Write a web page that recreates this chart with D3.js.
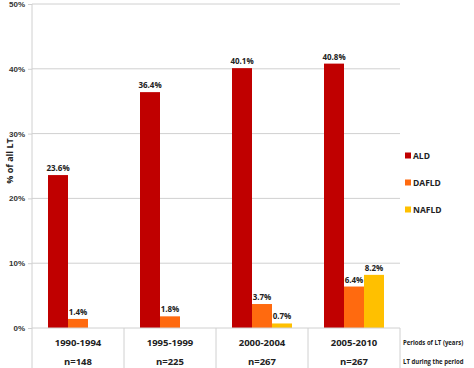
<!DOCTYPE html>
<html><head><meta charset="utf-8">
<script src="https://cdn.jsdelivr.net/npm/d3@7"></script>
<style>body{margin:0;background:#fff}svg{display:block;font-family:"Open Sans","Liberation Sans",sans-serif}</style>
</head><body><svg id="c" width="474" height="368"></svg>
<script>
const periods = ["1990-1994","1995-1999","2000-2004","2005-2010"];
const counts = ["n=148","n=225","n=267","n=267"];
const seriesNames = ["ALD","DAFLD","NAFLD"];
const ald = [23.6, 36.4, 40.1, 40.8];
const dafld = [1.4, 1.8, 3.7, 6.4];
const nafld = [null, null, 0.7, 8.2];
const yTicks = [0,10,20,30,40,50];
const rowLabels = ["Periods of LT (years)","LT during the period"];
const colors = ["#C00000","#FF6A0F","#FFC000"];

const svg = d3.select("#c");
const L=32, R=400, T=4, B=328;
const x = d3.scaleBand().domain(periods).range([L,R]);
const y = d3.scaleLinear().domain([0,50]).range([B,T]);
const xs = d3.scaleBand().domain(seriesNames).range([0,60]);
const grid="#d0d0d0";

// gridlines
svg.append("g").selectAll("line").data(yTicks.slice(1)).join("line")
  .attr("x1",L).attr("x2",R).attr("y1",d=>y(d)).attr("y2",d=>y(d))
  .attr("stroke",grid).attr("stroke-width",1);

// y axis
const yAxis = d3.axisLeft(y).tickValues(yTicks).tickFormat(d=>d+"%").tickSize(4).tickPadding(3);
const ga = svg.append("g").attr("transform",`translate(${L},0)`).call(yAxis);
ga.select(".domain").remove();
ga.selectAll("line").attr("stroke",grid);
ga.selectAll("text").attr("font-size",8).attr("font-weight","bold").attr("fill","#333");
svg.append("line").attr("x1",L).attr("x2",L).attr("y1",T).attr("y2",368).attr("stroke",grid);

// y title
svg.append("text").attr("transform",`translate(13,${161}) rotate(-90)`).attr("text-anchor","middle")
  .attr("font-size",9).attr("font-weight","bold").attr("fill","#222").text("% of all LT");

// bars
const data = [ald,dafld,nafld];
data.forEach((arr,si)=>{
  const g = svg.append("g");
  const pts = periods.map((p,i)=>({p,v:arr[i]})).filter(d=>d.v!=null);
  const off = x.bandwidth()/2 - 30;
  g.selectAll("rect").data(pts).join("rect")
    .attr("x",d=>x(d.p)+off+xs(seriesNames[si])).attr("width",xs.bandwidth())
    .attr("y",d=>y(d.v)).attr("height",d=>B-y(d.v)).attr("fill",colors[si]);
  g.selectAll("text").data(pts).join("text")
    .attr("x",d=>x(d.p)+off+xs(seriesNames[si])+xs.bandwidth()/2).attr("y",d=>y(d.v)-4)
    .attr("text-anchor","middle").attr("font-size",8).attr("font-weight","bold").attr("fill","#222")
    .text(d=>d.v.toFixed(1)+"%");
});

// table
svg.append("line").attr("x1",L).attr("x2",R).attr("y1",B).attr("y2",B).attr("stroke",grid);
svg.append("g").selectAll("line").data(periods.slice(1).concat(["end"])).join("line")
  .attr("x1",d=>d==="end"?R:x(d)).attr("x2",d=>d==="end"?R:x(d)).attr("y1",B).attr("y2",368).attr("stroke",grid);
svg.append("g").selectAll("text").data(periods).join("text")
  .attr("x",d=>x(d)+x.bandwidth()/2).attr("y",346).attr("text-anchor","middle")
  .attr("font-size",9.5).attr("font-weight","bold").attr("fill","#222").text(d=>d);
svg.append("g").selectAll("text").data(counts).join("text")
  .attr("x",(d,i)=>x(periods[i])+x.bandwidth()/2).attr("y",365).attr("text-anchor","middle")
  .attr("font-size",9.5).attr("font-weight","bold").attr("fill","#222").text(d=>d);
svg.append("g").selectAll("text").data(rowLabels).join("text")
  .attr("transform",(d,i)=>`translate(403,${i?364:345}) scale(0.8,1)`)
  .attr("font-size",7.5).attr("font-weight","bold").attr("fill","#222").text(d=>d);

// legend
const lg = svg.append("g").selectAll("g").data(seriesNames).join("g")
  .attr("transform",(d,i)=>`translate(405,${156+i*27})`);
lg.append("rect").attr("x",0).attr("y",-3.5).attr("width",6).attr("height",6).attr("fill",(d,i)=>colors[i]);
lg.append("text").attr("x",8).attr("y",3).attr("font-size",8.5).attr("font-weight","bold").attr("fill","#222").text(d=>d);
</script></body></html>
